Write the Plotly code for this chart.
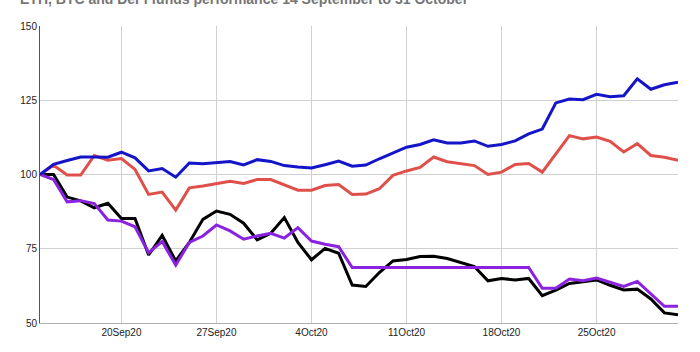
import plotly.graph_objects as go
import pandas as pd

dates = pd.date_range("2020-09-14", "2020-10-31", freq="D")

btc = [100, 103.4, 104.7, 105.9, 105.9, 105.8, 107.5, 105.6, 101.2, 102.0,
       99.1, 103.9, 103.6, 104.1, 104.4, 103.2, 105.0, 104.4, 103.0, 102.5,
       102.2, 103.3, 104.5, 102.8, 103.2, 105.3, 107.2, 109.2, 110.1, 111.7,
       110.6, 110.6, 111.3, 109.5, 110.1, 111.3, 113.7, 115.3, 124.1, 125.4,
       125.2, 127.0, 126.2, 126.5, 132.2, 128.7, 130.2, 131.1]

eth = [100, 103.1, 99.8, 99.8, 106.4, 104.8, 105.4, 101.7, 93.3, 94.1,
       88.0, 95.5, 96.1, 96.9, 97.7, 97.0, 98.3, 98.3, 96.4, 94.7,
       94.7, 96.3, 96.6, 93.3, 93.4, 95.2, 99.7, 101.2, 102.4, 105.9,
       104.3, 103.7, 103.0, 100.0, 100.8, 103.4, 103.7, 100.8, 106.9, 113.1,
       112.0, 112.6, 111.2, 107.6, 110.4, 106.4, 105.8, 104.8]

defi_a = [100, 100, 92.4, 91.1, 88.8, 90.3, 85.2, 85.2, 72.9, 79.5,
          70.9, 77.1, 84.9, 87.7, 86.6, 83.6, 78.0, 80.2, 85.5, 77.1,
          71.3, 75.1, 73.5, 62.8, 62.3, 67.0, 70.9, 71.4, 72.4, 72.5,
          71.7, 70.4, 69.0, 64.2, 65.0, 64.5, 65.0, 59.2, 61.1, 63.3,
          64.0, 64.5, 62.7, 61.1, 61.4, 58.1, 53.4, 52.8]

defi_b = [100, 98.3, 90.8, 91.2, 90.2, 84.7, 84.3, 82.4, 73.7, 77.4,
          69.5, 77.1, 79.3, 83.0, 81.0, 78.2, 79.3, 80.2, 78.6, 82.1,
          77.6, 76.5, 75.7, 68.7, 68.7, 68.7, 68.7, 68.7, 68.7, 68.7,
          68.7, 68.7, 68.7, 68.7, 68.7, 68.7, 68.7, 61.7, 61.7, 64.8,
          64.2, 65.1, 63.6, 62.3, 64.0, 59.7, 55.6, 55.6]

series_names = ["BTC", "ETH", "DeFi fund 1", "DeFi fund 2"]
series_values = [btc, eth, defi_a, defi_b]
series_colors = ["#1414c8", "#e0504a", "#000000", "#8a22e0"]

x_tick_vals = ["2020-09-20", "2020-09-27", "2020-10-04", "2020-10-11", "2020-10-18", "2020-10-25"]
x_tick_text = ["20Sep20", "27Sep20", "4Oct20", "11Oct20", "18Oct20", "25Oct20"]
y_tick_vals = [50, 75, 100, 125, 150]

title = "ETH, BTC and DeFi funds performance 14 September to 31 October"

fig = go.Figure()
# draw order: black/purple under red/blue? reference shows purple over black
for name, vals, col in zip([series_names[2], series_names[3], series_names[1], series_names[0]],
                           [series_values[2], series_values[3], series_values[1], series_values[0]],
                           [series_colors[2], series_colors[3], series_colors[1], series_colors[0]]):
    fig.add_trace(go.Scatter(x=dates, y=vals, mode="lines", name=name,
                             line=dict(color=col, width=3)))

fig.update_layout(
    width=700, height=352,
    margin=dict(l=40, r=22, t=26, b=29),
    paper_bgcolor="white", plot_bgcolor="white",
    font=dict(family="Arial, Liberation Sans, sans-serif", size=10, color="#222222"),
    showlegend=False,
    xaxis=dict(range=[dates[0], dates[-1]], tickvals=x_tick_vals, ticktext=x_tick_text,
               showgrid=True, gridcolor="#d0d0d0", gridwidth=1,
               showline=True, linecolor="#b0b0b0", linewidth=1,
               zeroline=False, ticks="", tickfont=dict(size=10, color="#222222")),
    yaxis=dict(range=[50, 150], tickvals=y_tick_vals,
               showgrid=True, gridcolor="#d0d0d0", gridwidth=1,
               showline=True, linecolor="#555555", linewidth=1,
               zeroline=False, ticks="", ticklen=4,
               tickfont=dict(size=10, color="#222222")),
)

fig.add_annotation(text="<b>" + title + "</b>", xref="paper", yref="paper",
                   x=-22/638, y=1 + 27/298, xanchor="left", yanchor="middle",
                   showarrow=False, font=dict(size=14, color="#757575",
                   family="Arial, Liberation Sans, sans-serif"))

fig.write_html("out.html")
